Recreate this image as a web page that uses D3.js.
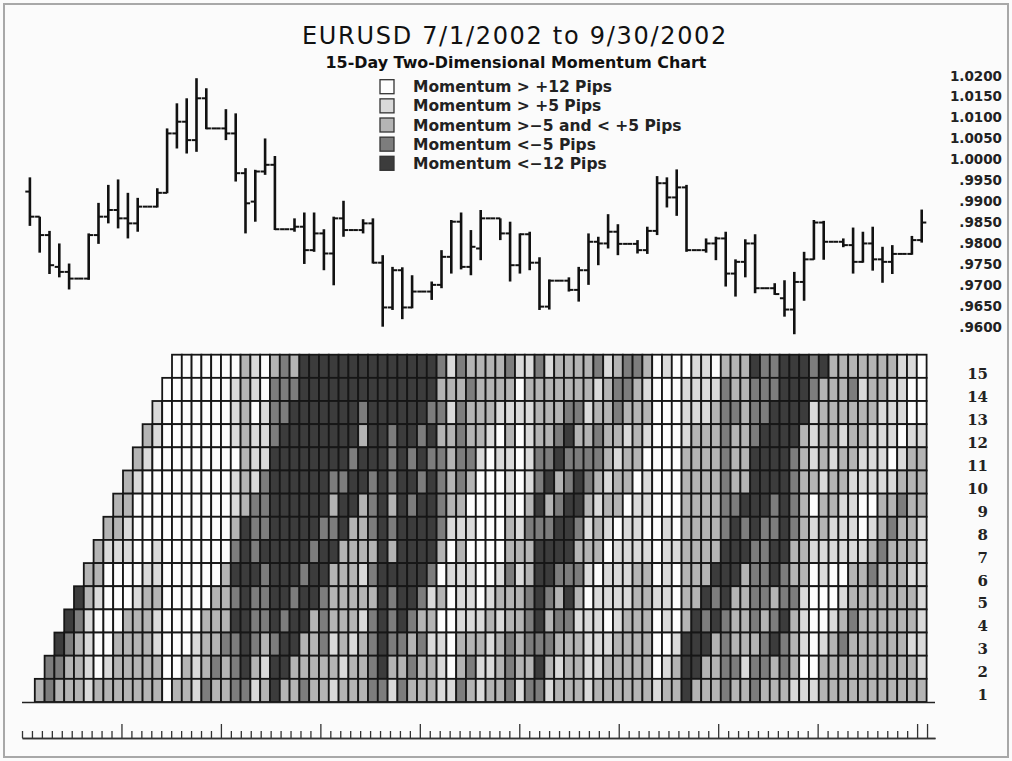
<!DOCTYPE html>
<html>
<head>
<meta charset="utf-8">
<script src="https://cdn.jsdelivr.net/npm/d3@7"></script>
<style>
  body { margin: 0; background: #fff; }
  svg { display: block; }
</style>
</head>
<body>
<svg id="chart" width="1012" height="761"></svg>
<script>
// EURUSD daily bars, one column per calendar day from 7/1/2002 to 9/30/2002
// (Saturdays are flat bars)
var opens = [
  0.9923, 0.9863, 0.9819, 0.9743, 0.9731, 0.9715, 0.9715, 0.9819, 0.9863, 0.9879,
  0.9859, 0.9847, 0.9887, 0.9887, 0.9920, 1.0062, 1.0090, 1.0046, 1.0146, 1.0074,
  1.0074, 1.0062, 0.9967, 0.9899, 0.9971, 0.9987, 0.9833, 0.9833, 0.9839, 0.9783,
  0.9823, 0.9775, 0.9859, 0.9831, 0.9831, 0.9847, 0.9753, 0.9646, 0.9735, 0.9646,
  0.9684, 0.9684, 0.9700, 0.9767, 0.9851, 0.9743, 0.9787, 0.9859, 0.9859, 0.9823,
  0.9747, 0.9821, 0.9753, 0.9648, 0.9710, 0.9710, 0.9688, 0.9735, 0.9803, 0.9799,
  0.9827, 0.9798, 0.9798, 0.9783, 0.9829, 0.9943, 0.9909, 0.9933, 0.9783, 0.9783,
  0.9799, 0.9811, 0.9727, 0.9755, 0.9799, 0.9692, 0.9692, 0.9668, 0.9641, 0.9707,
  0.9761, 0.9849, 0.9803, 0.9803, 0.9795, 0.9755, 0.9799, 0.9761, 0.9755, 0.9774,
  0.9774, 0.9807
];
var highs = [
  0.9957, 0.9863, 0.9829, 0.9799, 0.9751, 0.9715, 0.9823, 0.9896, 0.9939, 0.9952,
  0.9920, 0.9908, 0.9887, 0.9931, 1.0074, 1.0134, 1.0146, 1.0194, 1.0170, 1.0074,
  1.0120, 1.0110, 0.9979, 0.9975, 1.0050, 1.0008, 0.9833, 0.9859, 0.9873, 0.9873,
  0.9833, 0.9863, 0.9901, 0.9831, 0.9857, 0.9859, 0.9771, 0.9743, 0.9742, 0.9723,
  0.9684, 0.9708, 0.9783, 0.9855, 0.9873, 0.9831, 0.9879, 0.9859, 0.9859, 0.9851,
  0.9823, 0.9827, 0.9766, 0.9713, 0.9710, 0.9718, 0.9743, 0.9823, 0.9815, 0.9869,
  0.9845, 0.9798, 0.9807, 0.9839, 0.9960, 0.9957, 0.9976, 0.9939, 0.9783, 0.9811,
  0.9815, 0.9827, 0.9761, 0.9809, 0.9821, 0.9692, 0.9704, 0.9711, 0.9731, 0.9779,
  0.9855, 0.9853, 0.9803, 0.9811, 0.9837, 0.9827, 0.9839, 0.9791, 0.9795, 0.9774,
  0.9817, 0.9880
];
var lows = [
  0.9841, 0.9777, 0.9726, 0.9718, 0.9689, 0.9715, 0.9712, 0.9798, 0.9847, 0.9835,
  0.9811, 0.9827, 0.9887, 0.9885, 0.9919, 1.0026, 1.0014, 1.0018, 1.0072, 1.0074,
  1.0046, 0.9947, 0.9823, 0.9851, 0.9963, 0.9831, 0.9833, 0.9827, 0.9750, 0.9779,
  0.9735, 0.9699, 0.9815, 0.9831, 0.9823, 0.9751, 0.9600, 0.9640, 0.9618, 0.9644,
  0.9684, 0.9664, 0.9692, 0.9727, 0.9737, 0.9723, 0.9759, 0.9859, 0.9807, 0.9708,
  0.9727, 0.9735, 0.9640, 0.9641, 0.9710, 0.9684, 0.9660, 0.9700, 0.9747, 0.9787,
  0.9771, 0.9798, 0.9775, 0.9774, 0.9819, 0.9885, 0.9865, 0.9779, 0.9783, 0.9777,
  0.9759, 0.9696, 0.9672, 0.9718, 0.9680, 0.9692, 0.9676, 0.9624, 0.9582, 0.9662,
  0.9760, 0.9760, 0.9803, 0.9790, 0.9727, 0.9753, 0.9734, 0.9705, 0.9726, 0.9774,
  0.9772, 0.9801
];
var closes = [
  0.9863, 0.9819, 0.9747, 0.9731, 0.9715, 0.9715, 0.9819, 0.9863, 0.9879, 0.9859,
  0.9847, 0.9887, 0.9887, 0.9920, 1.0062, 1.0090, 1.0046, 1.0146, 1.0074, 1.0074,
  1.0062, 0.9967, 0.9895, 0.9971, 0.9987, 0.9833, 0.9833, 0.9839, 0.9783, 0.9823,
  0.9775, 0.9859, 0.9831, 0.9831, 0.9847, 0.9753, 0.9646, 0.9735, 0.9646, 0.9684,
  0.9684, 0.9700, 0.9767, 0.9851, 0.9743, 0.9791, 0.9859, 0.9859, 0.9823, 0.9747,
  0.9821, 0.9753, 0.9648, 0.9710, 0.9710, 0.9688, 0.9735, 0.9803, 0.9799, 0.9827,
  0.9798, 0.9798, 0.9783, 0.9829, 0.9943, 0.9909, 0.9933, 0.9783, 0.9783, 0.9799,
  0.9811, 0.9727, 0.9755, 0.9799, 0.9692, 0.9692, 0.9678, 0.9641, 0.9707, 0.9761,
  0.9849, 0.9803, 0.9803, 0.9795, 0.9755, 0.9799, 0.9761, 0.9755, 0.9774, 0.9774,
  0.9807, 0.9849
];

// right hand price labels
var priceTicks = [0.9600, 0.9650, 0.9700, 0.9750, 0.9800, 0.9850, 0.9900, 0.9950,
                  1.0000, 1.0050, 1.0100, 1.0150, 1.0200];

// momentum look-back rows, top to bottom
var lookbacks = [15, 14, 13, 12, 11, 10, 9, 8, 7, 6, 5, 4, 3, 2, 1];

// momentum bands (price change); the chart calls 0.0010 a "pip"
var bandLimits = [-0.0120, -0.0050, 0.0050, 0.0120];
var bandColors = ["#3c3c3c", "#7d7d7d", "#b4b4b4", "#dadada", "#fdfdfd"];

var legendLabels = [
  "Momentum > +12 Pips",
  "Momentum > +5 Pips",
  "Momentum >\u22125 and < +5 Pips",
  "Momentum <\u22125 Pips",
  "Momentum <\u221212 Pips"
];

var svg = d3.select("svg#chart");
var W = 1012, H = 761;

svg.append("rect")
  .attr("width", W).attr("height", H)
  .attr("fill", "#fbfbfb");

svg.append("rect")
  .attr("x", 4).attr("y", 4)
  .attr("width", W - 8).attr("height", H - 8)
  .attr("fill", "none")
  .attr("stroke", "#a8a8a8")
  .attr("stroke-width", 2);

var nDays = closes.length;

// one band per day, shared by the price bars and the momentum grid
var x = d3.scaleBand()
  .domain(d3.range(nDays))
  .range([25, 25 + 9.8 * nDays]);
var cx = i => x(i) + x.bandwidth() / 2;

var y = d3.scaleLinear()
  .domain([0.96, 1.02])
  .range([326.7, 75.7]);

// Titles
svg.append("text")
  .attr("x", 515).attr("y", 44)
  .attr("text-anchor", "middle")
  .attr("font-family", "DejaVu Sans, Verdana, sans-serif")
  .attr("font-size", 24)
  .attr("letter-spacing", 1.7)
  .attr("fill", "#111")
  .text("EURUSD 7/1/2002 to 9/30/2002");

svg.append("text")
  .attr("x", 516).attr("y", 68)
  .attr("text-anchor", "middle")
  .attr("font-family", "DejaVu Sans, Verdana, sans-serif")
  .attr("font-weight", "bold")
  .attr("font-size", 15.9)
  .attr("fill", "#111")
  .text("15-Day Two-Dimensional Momentum Chart");

// Legend
var legendY = d3.scalePoint()
  .domain(d3.range(legendLabels.length))
  .range([86.7, 163.3]);
var legendFill = bandColors.slice().reverse();

var legend = svg.selectAll("g.legendItem")
  .data(legendLabels)
  .enter().append("g")
  .attr("class", "legendItem")
  .attr("transform", (d, j) => "translate(0," + legendY(j) + ")");

legend.append("rect")
  .attr("x", 380).attr("y", -7)
  .attr("width", 14).attr("height", 14)
  .attr("fill", (d, j) => legendFill[j])
  .attr("stroke", "#333")
  .attr("stroke-width", 1.3);

legend.append("text")
  .attr("x", 413).attr("y", 5.5)
  .attr("font-family", "DejaVu Sans, Verdana, sans-serif")
  .attr("font-weight", "bold")
  .attr("font-size", 15.5)
  .attr("fill", "#222")
  .text(d => d);

// Price bars: high-low line, open tick left, close tick right
var bars = svg.append("g")
  .attr("stroke", "#111")
  .attr("fill", "none");

var bar = bars.selectAll("g.bar")
  .data(d3.range(nDays))
  .enter().append("g")
  .attr("class", "bar");

bar.append("line")
  .attr("x1", i => cx(i)).attr("x2", i => cx(i))
  .attr("y1", i => y(highs[i])).attr("y2", i => y(lows[i]))
  .attr("stroke-width", 2.6);

bar.append("line")
  .attr("x1", i => cx(i) - 4.6).attr("x2", i => cx(i))
  .attr("y1", i => y(opens[i])).attr("y2", i => y(opens[i]))
  .attr("stroke-width", 2);

bar.append("line")
  .attr("x1", i => cx(i)).attr("x2", i => cx(i) + 4.6)
  .attr("y1", i => y(closes[i])).attr("y2", i => y(closes[i]))
  .attr("stroke-width", 2);

// Price labels on the right
svg.selectAll("text.priceLabel")
  .data(priceTicks)
  .enter().append("text")
  .attr("class", "priceLabel")
  .attr("x", 1002)
  .attr("y", d => y(d))
  .attr("dy", "0.36em")
  .attr("text-anchor", "end")
  .attr("font-family", "DejaVu Sans, Verdana, sans-serif")
  .attr("font-weight", "bold")
  .attr("font-size", 13.5)
  .attr("fill", "#222")
  .text(d => d >= 1 ? d.toFixed(4) : d.toFixed(4).slice(1));

// Momentum grid: row k, column i compares close i with close i-k
var rowY = d3.scaleBand()
  .domain(lookbacks)
  .range([354.7, 702]);

var shade = d3.scaleThreshold()
  .domain(bandLimits)
  .range(bandColors);

var cells = [];
lookbacks.forEach(function(k) {
  for (var i = k; i < nDays; i++) {
    cells.push({ k: k, i: i, m: +(closes[i] - closes[i - k]).toFixed(4) });
  }
});

svg.append("g").selectAll("rect.cell")
  .data(cells)
  .enter().append("rect")
  .attr("class", "cell")
  .attr("x", d => x(d.i))
  .attr("y", d => rowY(d.k))
  .attr("width", x.bandwidth())
  .attr("height", rowY.bandwidth())
  .attr("fill", d => shade(d.m))
  .attr("stroke", "#161616")
  .attr("stroke-width", 1.8);

// base line under the grid
svg.append("line")
  .attr("x1", 22).attr("x2", 935)
  .attr("y1", 702.5).attr("y2", 702.5)
  .attr("stroke", "#222")
  .attr("stroke-width", 1.6);

// row numbers
var labelY = d3.scaleLinear()
  .domain([15, 1])
  .range([374, 694.7]);

svg.selectAll("text.rowLabel")
  .data(lookbacks)
  .enter().append("text")
  .attr("class", "rowLabel")
  .attr("x", 988)
  .attr("y", d => labelY(d))
  .attr("dy", "0.36em")
  .attr("text-anchor", "end")
  .attr("font-family", "DejaVu Serif, Liberation Serif, serif")
  .attr("font-weight", "bold")
  .attr("font-size", 15)
  .attr("fill", "#222")
  .text(d => d);

// bottom time ruler: a tick per day, long tick every ten days
var dayX = d3.scaleLinear()
  .domain([0, 91.8])
  .range([22, 935]);
var dayIdx = d3.range(nDays);
var majorDays = dayIdx.filter(d => d > 0 && (d % 10 === 0 || d === nDays - 1));
var minorDays = dayIdx.filter(d => majorDays.indexOf(d) < 0);

svg.append("g")
  .attr("transform", "translate(0,738)")
  .call(d3.axisTop(dayX).tickValues(minorDays).tickSize(7).tickSizeOuter(0).tickFormat(""))
  .call(g => g.selectAll("line, path").attr("stroke", "#333").attr("stroke-width", 1.3));

svg.append("g")
  .attr("transform", "translate(0,738)")
  .call(d3.axisTop(dayX).tickValues(majorDays).tickSize(14).tickSizeOuter(0).tickFormat(""))
  .call(g => g.selectAll("line, path").attr("stroke", "#333").attr("stroke-width", 1.3));
</script>
</body>
</html>
